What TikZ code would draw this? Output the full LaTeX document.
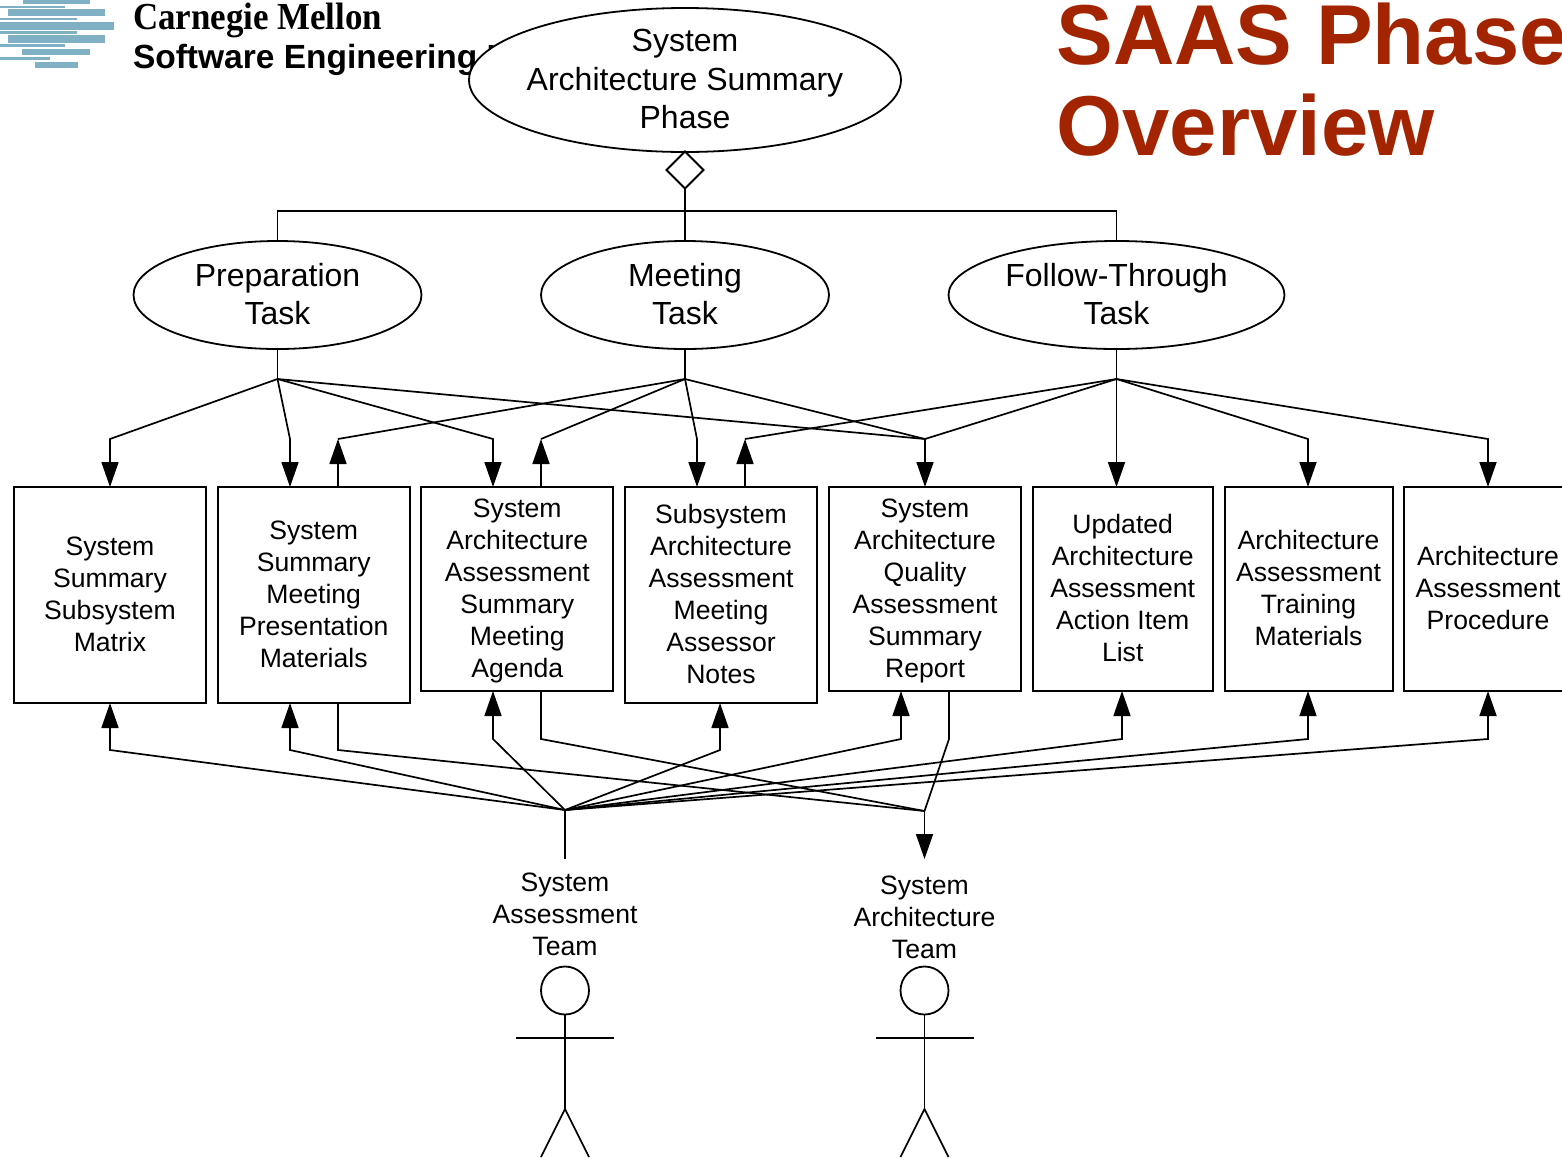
\documentclass[tikz,border=0pt]{standalone}
\usepackage{fontspec}
\setmainfont{Liberation Sans}
\newfontfamily\logoserif{Liberation Serif}
\usetikzlibrary{arrows.meta,calc,shapes.geometric}
\definecolor{titlered}{HTML}{A32400}
\definecolor{logoblue}{HTML}{7FB0C3}
\tikzset{
  every node/.style={outer sep=0pt},
  conn/.style={line width=1.7pt,line join=miter},
  tip/.style={conn,-{Triangle[length=25pt,width=17pt]}},
  boxnode/.style={draw=black,line width=2pt,inner sep=0pt},
  boxtext/.style={inner sep=0pt,align=center,font=\fontsize{26.6}{32}\selectfont},
  task/.style={draw=black,line width=1.8pt,fill=white,inner sep=0pt,ellipse},
  tasktext/.style={inner sep=0pt,align=center,font=\fontsize{32}{38.5}\selectfont},
  lbl/.style={inner sep=0pt,align=center,font=\fontsize{26.6}{32}\selectfont},
  stripe/.style={fill=logoblue,draw=none},
  actorline/.style={line width=1.7pt}
}
\newcommand{\actor}[2]{%
  \node[draw=black,line width=1.8pt,circle,minimum size=48pt,inner sep=0pt] (#1head) at (#2,990.5) {};
  \coordinate (#1hip) at (#2,1109);
  \coordinate (#1neck) at (#2,1038);
  \coordinate (#1al) at ($(#1neck)+(-49,0)$);
  \coordinate (#1ar) at ($(#1neck)+(49,0)$);
  \coordinate (#1ll) at ($(#1hip)+(-24,48)$);
  \coordinate (#1lr) at ($(#1hip)+(24,48)$);
  \draw[actorline] (#1head.south) -- (#1hip);
  \draw[actorline] (#1al) -- (#1ar);
  \draw[actorline] (#1ll) -- (#1hip) -- (#1lr);}
\begin{document}
\begin{tikzpicture}[x=1pt,y=-1pt]
\useasboundingbox (0,0) rectangle (1562,1157);
\clip (0,0) rectangle (1562,1157);
% logo
\foreach \xa/\xb/\ya/\yb in {23/90/0/3.5,0/65/5.8/7.6,8/105/9.3/16.3,0/77/18/20.4,0/114/22.3/30,0/77/31/33.6,8/105/35.3/43,0/65/44.2/46.6,22/90/48.8/55.3,0/50/57/59.6,35/78/61.8/68}
  \fill[stripe] (\xa,\ya) rectangle (\xb,\yb);
\node[anchor=base west,inner sep=0pt,font=\logoserif\bfseries\fontsize{36}{36}\selectfont] (logoa) at (133,29) {\scalebox{0.97}[1.06]{Carnegie Mellon}};
\node[anchor=base west,inner sep=0pt,font=\bfseries\fontsize{33.5}{34}\selectfont] (logob) at (133,68) {Software Engineering I};
% title
\node[anchor=base west,inner sep=0pt,text=titlered,font=\bfseries\fontsize{85}{85}\selectfont] (titlea) at (1056.5,64) {SAAS Phase};
\node[anchor=base west,inner sep=0pt,text=titlered,font=\bfseries\fontsize{85}{85}\selectfont] (titleb) at (1056.5,155) {Overview};
% tasks
\node[task,minimum width=432pt,minimum height=144pt,label={[tasktext,yshift=1pt]center:{System\\Architecture Summary\\Phase}}] (phase) at (685,80) {};
\node[draw=black,line width=1.8pt,diamond,fill=white,minimum width=37pt,minimum height=37pt,inner sep=0pt] (dia) at (685,170) {};
\node[task,minimum width=288pt,minimum height=108pt,label={[tasktext,yshift=1pt]center:{Preparation\\Task}}] (prep) at (277.5,295) {};
\node[task,minimum width=288pt,minimum height=108pt,label={[tasktext,yshift=1pt]center:{Meeting\\Task}}] (meet) at (685,295) {};
\node[task,minimum width=336pt,minimum height=108pt,label={[tasktext,yshift=1pt]center:{Follow-Through\\Task}}] (follow) at (1116.5,295) {};
\coordinate (bar) at (685,211);
\draw[conn] (dia.south) -- (meet.north);
\draw[conn] (prep.north) -- (prep.north |- bar) -- (follow.north |- bar) -- (follow.north);
% boxes
\node[boxnode,minimum width=192pt,minimum height=216pt,label={[boxtext,yshift=1pt]center:{System\\Summary\\Subsystem\\Matrix}}] (b1) at (110,595) {};
\node[boxnode,minimum width=192pt,minimum height=216pt,label={[boxtext,yshift=1pt]center:{System\\Summary\\Meeting\\Presentation\\Materials}}] (b2) at (313.7,595) {};
\node[boxnode,minimum width=192pt,minimum height=204pt,label={[boxtext,yshift=-1.5pt]center:{System\\Architecture\\Assessment\\Summary\\Meeting\\Agenda}}] (b3) at (517.3,589) {};
\node[boxnode,minimum width=192pt,minimum height=216pt,label={[boxtext,yshift=1pt]center:{Subsystem\\Architecture\\Assessment\\Meeting\\Assessor\\Notes}}] (b4) at (721,595) {};
\node[boxnode,minimum width=192pt,minimum height=204pt,label={[boxtext,yshift=-1.5pt]center:{System\\Architecture\\Quality\\Assessment\\Summary\\Report}}] (b5) at (925,589) {};
\node[boxnode,minimum width=180pt,minimum height=204pt,label={[boxtext,yshift=1pt]center:{Updated\\Architecture\\Assessment\\Action Item\\List}}] (b6) at (1122.7,589) {};
\node[boxnode,minimum width=168pt,minimum height=204pt,label={[boxtext,yshift=1pt]center:{Architecture\\Assessment\\Training\\Materials}}] (b7) at (1308.5,589) {};
\node[boxnode,minimum width=168pt,minimum height=204pt,label={[boxtext,yshift=1pt]center:{Architecture\\Assessment\\Procedure}}] (b8) at (1488,589) {};
% upper junctions
\coordinate (ap) at (277.5,379);
\coordinate (am) at (685,379);
\coordinate (af) at (1116.5,379);
\coordinate (t1) at (110,439);
\coordinate (t2) at (290,439);
\coordinate (u2) at (338,439);
\coordinate (t3) at (493,439);
\coordinate (u3) at (541,439);
\coordinate (t4) at (697,439);
\coordinate (u4) at (745,439);
\coordinate (t5) at (925,439);
\coordinate (t7) at (1308,439);
\coordinate (t8) at (1488,439);
\draw[conn] (prep.south) -- (ap);
\draw[conn] (meet.south) -- (am);
\draw[conn] (follow.south) -- (af);
\draw[tip] (ap) -- (t1) -- (b1.north -| t1);
\draw[tip] (ap) -- (t2) -- (b2.north -| t2);
\draw[tip] (ap) -- (t3) -- (b3.north -| t3);
\draw[conn] (ap) -- (t5);
\draw[conn] (am) -- (u2);
\draw[tip] (b2.north -| u2) -- (u2);
\draw[conn] (am) -- (u3);
\draw[tip] (b3.north -| u3) -- (u3);
\draw[tip] (am) -- (t4) -- (b4.north -| t4);
\draw[tip] (am) -- (t5) -- (b5.north -| t5);
\draw[conn] (af) -- (u4);
\draw[tip] (b4.north -| u4) -- (u4);
\draw[conn] (af) -- (t5);
\draw[tip] (af) -- (b6.north -| af);
\draw[tip] (af) -- (t7) -- (b7.north -| t7);
\draw[tip] (af) -- (t8) -- (b8.north -| t8);
% labels and actors
\node[lbl] (team1) at (565,914) {System\\Assessment\\Team};
\node[lbl] (team2) at (924.5,917) {System\\Architecture\\Team};
\actor{sa}{565}
\actor{ar}{924.5}
% lower junctions
\coordinate (as) at (565,810);
\coordinate (aa) at (924.5,811);
\coordinate (l1) at (110,750);
\coordinate (l2) at (290,750);
\coordinate (l3) at (493,739);
\coordinate (l4) at (720,750);
\coordinate (l5) at (901,739);
\coordinate (l6) at (1122,739);
\coordinate (l7) at (1308,739);
\coordinate (l8) at (1488,739);
\coordinate (m2) at (338,750);
\coordinate (m3) at (541,739);
\coordinate (m5) at (949,739);
\coordinate (sbot) at (565,859);
\coordinate (abot) at (924.5,859);
\draw[conn] (sbot) -- (as);
\draw[tip] (aa) -- (abot);
\draw[tip] (as) -- (l1) -- (b1.south -| l1);
\draw[tip] (as) -- (l2) -- (b2.south -| l2);
\draw[tip] (as) -- (l3) -- (b3.south -| l3);
\draw[tip] (as) -- (l4) -- (b4.south -| l4);
\draw[tip] (as) -- (l5) -- (b5.south -| l5);
\draw[tip] (as) -- (l6) -- (b6.south -| l6);
\draw[tip] (as) -- (l7) -- (b7.south -| l7);
\draw[tip] (as) -- (l8) -- (b8.south -| l8);
\draw[conn] (b2.south -| m2) -- (m2) -- (aa);
\draw[conn] (b3.south -| m3) -- (m3) -- (aa);
\draw[conn] (b5.south -| m5) -- (m5) -- (aa);
\end{tikzpicture}
\end{document}
